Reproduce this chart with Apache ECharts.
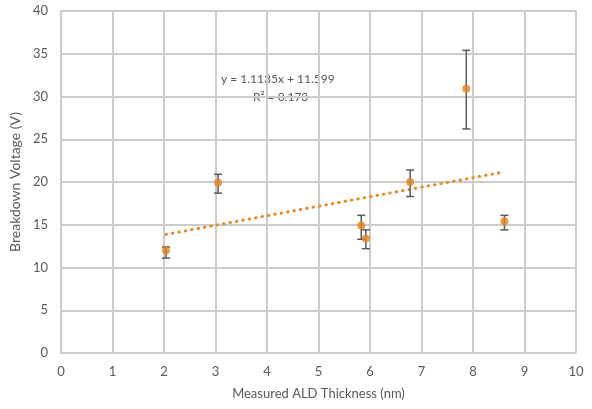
<!DOCTYPE html>
<html>
<head>
<meta charset="utf-8">
<script src="https://cdn.jsdelivr.net/npm/echarts@6/dist/echarts.min.js"></script>
<style>
  html, body { margin: 0; padding: 0; background: #fff; }
  #container { width: 592px; height: 409px; }
</style>
</head>
<body>
<div id="container"></div>
<script>
// measured points (thickness nm, breakdown V) and asymmetric error bars
var thickness = [2.04, 3.05, 5.83, 5.92, 6.78, 7.87, 8.61];
var voltage   = [12.0, 19.9, 14.9, 13.4, 20.0, 30.9, 15.4];
var errLow    = [11.1, 18.7, 13.3, 12.2, 18.3, 26.2, 14.4];
var errHigh   = [12.4, 20.9, 16.1, 14.4, 21.4, 35.4, 16.1];

var xTicks = [0, 1, 2, 3, 4, 5, 6, 7, 8, 9, 10];
var yTicks = [0, 5, 10, 15, 20, 25, 30, 35, 40];

// linear trendline as shown in the chart
var slope = 1.1135;
var intercept = 11.599;
var r2 = 0.173;

var textColor = '#595959';
var font = 'Lato, "Open Sans", sans-serif';

var points = thickness.map(function (x, i) { return [x, voltage[i]]; });
var bars = thickness.map(function (x, i) { return [x, errLow[i], errHigh[i]]; });
var xMin = Math.min.apply(null, thickness);
var xMax = Math.max.apply(null, thickness);
var trend = [[xMin, slope * xMin + intercept], [xMax, slope * xMax + intercept]];

var myChart = echarts.init(document.getElementById('container'));

var options = {
  animation: false,
  grid: { left: 60, right: 16, top: 11, bottom: 56 },
  xAxis: {
    type: 'value',
    min: xTicks[0],
    max: xTicks[xTicks.length - 1],
    interval: 1,
    name: 'Measured ALD Thickness (nm)',
    nameLocation: 'middle',
    nameGap: 34,
    nameTextStyle: { color: textColor, fontSize: 13, fontFamily: font },
    axisLine: { lineStyle: { color: '#cccccc', width: 2 } },
    axisTick: { show: false },
    axisLabel: { color: textColor, fontSize: 13, fontFamily: font, margin: 12 },
    splitLine: { show: true, lineStyle: { color: '#cccccc', width: 2 } }
  },
  yAxis: {
    type: 'value',
    min: yTicks[0],
    max: yTicks[yTicks.length - 1],
    interval: 5,
    name: 'Breakdown Voltage (V)',
    nameLocation: 'middle',
    nameGap: 36,
    nameTextStyle: { color: textColor, fontSize: 14, fontFamily: font },
    axisLine: { show: true, lineStyle: { color: '#cccccc', width: 2 } },
    axisTick: { show: false },
    axisLabel: { color: textColor, fontSize: 13, fontFamily: font, margin: 13 },
    splitLine: { show: true, lineStyle: { color: '#cccccc', width: 2 } }
  },
  graphic: [
    {
      type: 'text', left: 221, top: 73,
      style: { text: 'y = 1.1135x + ' + intercept, fill: textColor, font: '12px ' + font }
    },
    {
      type: 'text', left: 253, top: 91,
      style: { text: 'R² = ' + r2, fill: textColor, font: '12px ' + font }
    }
  ],
  series: [
    {
      type: 'line',
      data: trend,
      symbol: 'none',
      lineStyle: { color: '#E8892A', width: 3, type: [0.5, 6], cap: 'round' },
      z: 2
    },
    {
      type: 'custom',
      data: bars,
      renderItem: function (params, api) {
        var lo = api.coord([api.value(0), api.value(1)]);
        var hi = api.coord([api.value(0), api.value(2)]);
        var w = 4;
        var style = { stroke: '#5a5a5a', lineWidth: 1.5 };
        return {
          type: 'group',
          children: [
            { type: 'line', shape: { x1: lo[0], y1: lo[1], x2: hi[0], y2: hi[1] }, style: style },
            { type: 'line', shape: { x1: lo[0] - w, y1: lo[1], x2: lo[0] + w, y2: lo[1] }, style: style },
            { type: 'line', shape: { x1: hi[0] - w, y1: hi[1], x2: hi[0] + w, y2: hi[1] }, style: style }
          ]
        };
      },
      z: 3
    },
    {
      type: 'scatter',
      data: points,
      symbol: 'circle',
      symbolSize: 8,
      itemStyle: { color: '#E6851E' },
      z: 4
    }
  ]
};

myChart.setOption(options);
</script>
</body>
</html>
